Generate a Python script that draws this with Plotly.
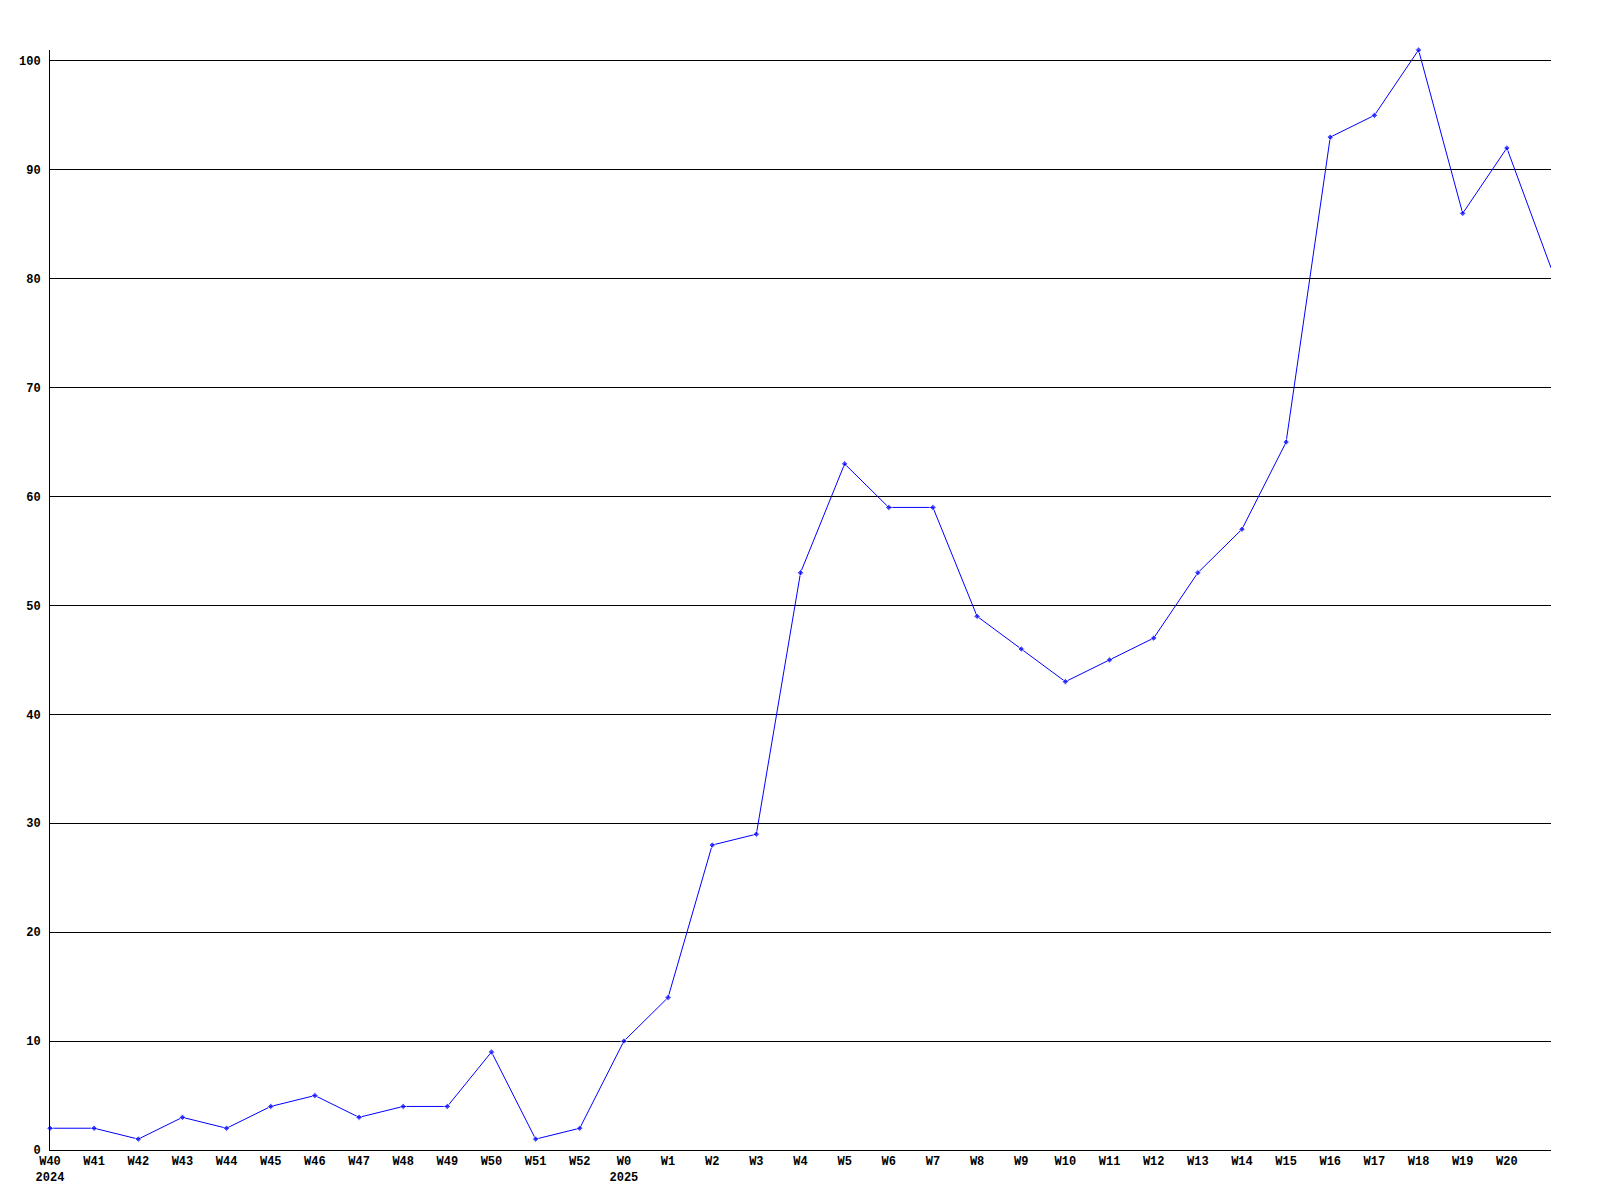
import plotly.graph_objects as go

weeks = ["W40", "W41", "W42", "W43", "W44", "W45", "W46", "W47", "W48", "W49", "W50", "W51", "W52",
         "W0", "W1", "W2", "W3", "W4", "W5", "W6", "W7", "W8", "W9", "W10", "W11", "W12", "W13",
         "W14", "W15", "W16", "W17", "W18", "W19", "W20", "W21"]
values = [2, 2, 1, 3, 2, 4, 5, 3, 4, 4, 9, 1, 2,
          10, 14, 28, 29, 53, 63, 59, 59, 49, 46, 43, 45, 47, 53,
          57, 65, 93, 95, 101, 86, 92, 81]
year_labels = {"W40": "2024", "W0": "2025"}
y_ticks = [0, 10, 20, 30, 40, 50, 60, 70, 80, 90, 100]

tick_weeks = weeks[:-1]
tick_text = [(w + "<br>" + year_labels[w]) if w in year_labels else w for w in tick_weeks]

# the last point sits on the plot's right edge and has no visible marker
marker_sizes = [5] * (len(weeks) - 1) + [0]

font_family = "Liberation Mono, DejaVu Sans Mono, monospace"

fig = go.Figure()
fig.add_trace(go.Scatter(
    x=weeks, y=values, mode="lines+markers",
    line=dict(color="#0000ff", width=1),
    marker=dict(color="#0000ff", size=marker_sizes, symbol="diamond"),
    cliponaxis=False, showlegend=False,
))

fig.update_layout(
    width=1600, height=1200,
    margin=dict(l=42, r=57, t=42, b=58, autoexpand=False),
    paper_bgcolor="white", plot_bgcolor="white",
    font=dict(family=font_family, size=12, color="black"),
    xaxis=dict(
        type="category", range=[0, len(weeks) - 1],
        tickmode="array", tickvals=tick_weeks, ticktext=tick_text,
        showgrid=False, zeroline=False,
        showline=True, linecolor="black", linewidth=1,
        ticks="", tickfont=dict(family=font_family, size=12, weight="bold"),
    ),
    yaxis=dict(
        range=[0, 101], tickmode="array", tickvals=y_ticks,
        showgrid=True, gridcolor="black", gridwidth=1,
        zeroline=False, showline=True, linecolor="black", linewidth=1,
        ticks="", ticklabelstandoff=6,
        tickfont=dict(family=font_family, size=12, weight="bold"),
    ),
)

fig.write_html("out.html")
